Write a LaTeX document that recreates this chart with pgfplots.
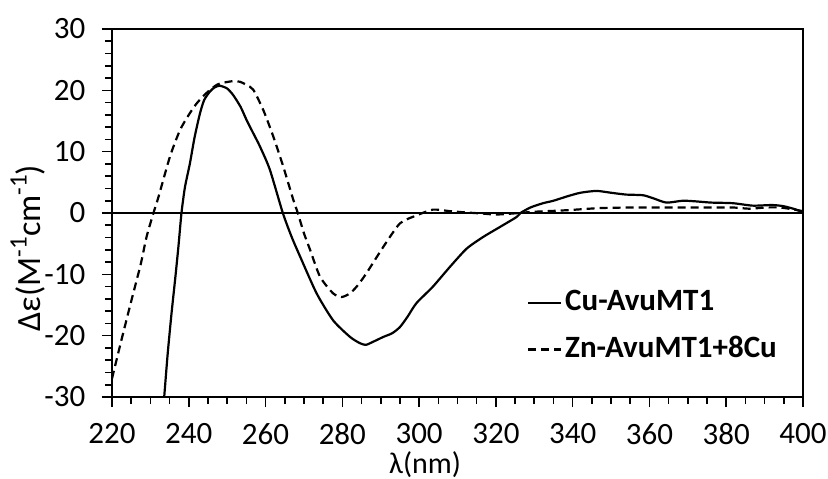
\documentclass[border=0pt]{standalone}
\usepackage{pgfplots}
\pgfplotsset{compat=1.18}
\usepackage{fontspec}
\setmainfont{Carlito}
\newcommand\sups[1]{\raisebox{0.42em}{\fontsize{12.5bp}{12.5bp}\selectfont #1}}
\begin{document}
\fontsize{15.3bp}{18bp}\selectfont
\begin{tikzpicture}
\begin{axis}[
  name=ax,
  at={(0,0)}, anchor=south west,
  scale only axis,
  width=345.5bp, height=184bp,
  xmin=220, xmax=400, ymin=-30, ymax=30,
  xtick={220,240,...,400}, ytick={-30,-20,...,30},
  minor x tick num=3, minor y tick num=4,
  tick align=outside, tick pos=left,
  major tick length=5bp, minor tick length=3.5bp,
  axis line style={line width=0.8bp},
  every tick/.style={black, line width=0.8bp},
  /pgf/number format/assume math mode=true,
  ticklabel style={font=\fontsize{15.5bp}{18bp}\selectfont},
  xticklabel style={yshift=-3bp},
  yticklabel style={xshift=-3bp},
  xlabel={λ(nm)},
  every axis x label/.style={font=\fontsize{15bp}{18bp}\selectfont, at={(rel axis cs:0.453,0)}, anchor=center, yshift=-34bp},
  legend style={draw=none, fill=none, at={(rel axis cs:0.600,0.1916)}, anchor=west,
    font=\bfseries\fontsize{15.5bp}{18bp}\selectfont, inner sep=0pt, row sep=7.5bp,
    nodes={inner sep=1.5bp}},
  legend cell align=left,
  legend image code/.code={\draw[#1] (0bp,0bp) -- (16.5bp,0bp);},
]
\addplot[black, line width=1bp, forget plot] coordinates {(220,0) (400,0)};
\addplot[black, line width=1.1bp, smooth, tension=0.4] coordinates {
(233.6,-30) (234.5,-23) (235.5,-16.4) (236.5,-10.5) (237.3,-5.5) (238.1,0)
(239.0,4.2) (240.3,8.1) (241.5,12.3) (242.9,16.2) (244,18.4) (245.5,19.8)
(246.8,20.5) (248.1,20.75) (250,20.3) (251.6,19.2) (253.5,17.3) (255.1,15.1)
(256.8,13.0) (258.5,10.9) (261.1,7.1) (264.5,0) (266.8,-3.9) (269.0,-7.1)
(273.3,-13.1) (277.6,-17.5) (282,-20.2) (284.5,-21.2) (286.1,-21.5) (288,-21.0)
(290.7,-20.2) (293,-19.6) (295,-18.6) (297,-16.9) (299.3,-14.7) (303.6,-12.0)
(308,-8.8) (312.4,-5.8) (316.7,-3.9) (321,-2.3) (325.4,-0.65) (326.4,0)
(329,0.9) (332.3,1.6) (335,2.0) (338.5,2.7) (342,3.3) (346.2,3.6) (350,3.3)
(354,3.0) (358.3,2.9) (361,2.4) (364.4,1.7) (368.7,2.0) (372,1.9) (376,1.7)
(381.7,1.6) (386.9,1.2) (392,1.3) (395,1.1) (398,0.6) (400,0.1)
};
\addlegendentry{Cu-AvuMT1}
\addplot[black, line width=1.1bp, dash pattern=on 4bp off 2.5bp, smooth, tension=0.4] coordinates {
(220,-27) (222.5,-20.6) (225,-14.4) (227.5,-8.3) (229,-3.9) (230.8,0)
(232.1,2.6) (235.1,9.2) (237.7,13.5) (240,16.0) (242.1,17.9) (244.5,19.5)
(247.3,20.9) (249.5,21.3) (251.6,21.5) (253.3,21.4) (255,20.9) (256.8,20.1)
(259.4,16.8) (262.0,12.5) (264.6,7.6) (267.2,2.2) (268.4,0) (270,-3.3)
(271.6,-6.0) (274.2,-10.4) (277.6,-13.1) (279.8,-13.7) (282,-13.1) (284,-11.8)
(286.3,-9.8) (290.7,-5.5) (295,-1.7) (299.3,-0.4) (303.6,0.55) (308,0.3)
(312,0.1) (316.7,-0.1) (320,-0.25) (324,-0.1) (330,0.2) (338.4,0.45)
(347,0.8) (355.7,0.9) (364.4,0.9) (373,0.9) (381.7,0.9) (386,0.7)
(390.4,0.9) (394,0.9) (397.3,0.6) (400,0.3)
};
\addlegendentry{Zn-AvuMT1+8Cu}
\end{axis}
\node[rotate=90, anchor=center, font=\fontsize{17bp}{20bp}\selectfont] at (-42bp,74.5bp) {Δε(M\sups{-1}cm\sups{-1})};
\pgfresetboundingbox
\useasboundingbox (-56bp,-41bp) rectangle (358bp,198.5bp);
\end{tikzpicture}
\end{document}
